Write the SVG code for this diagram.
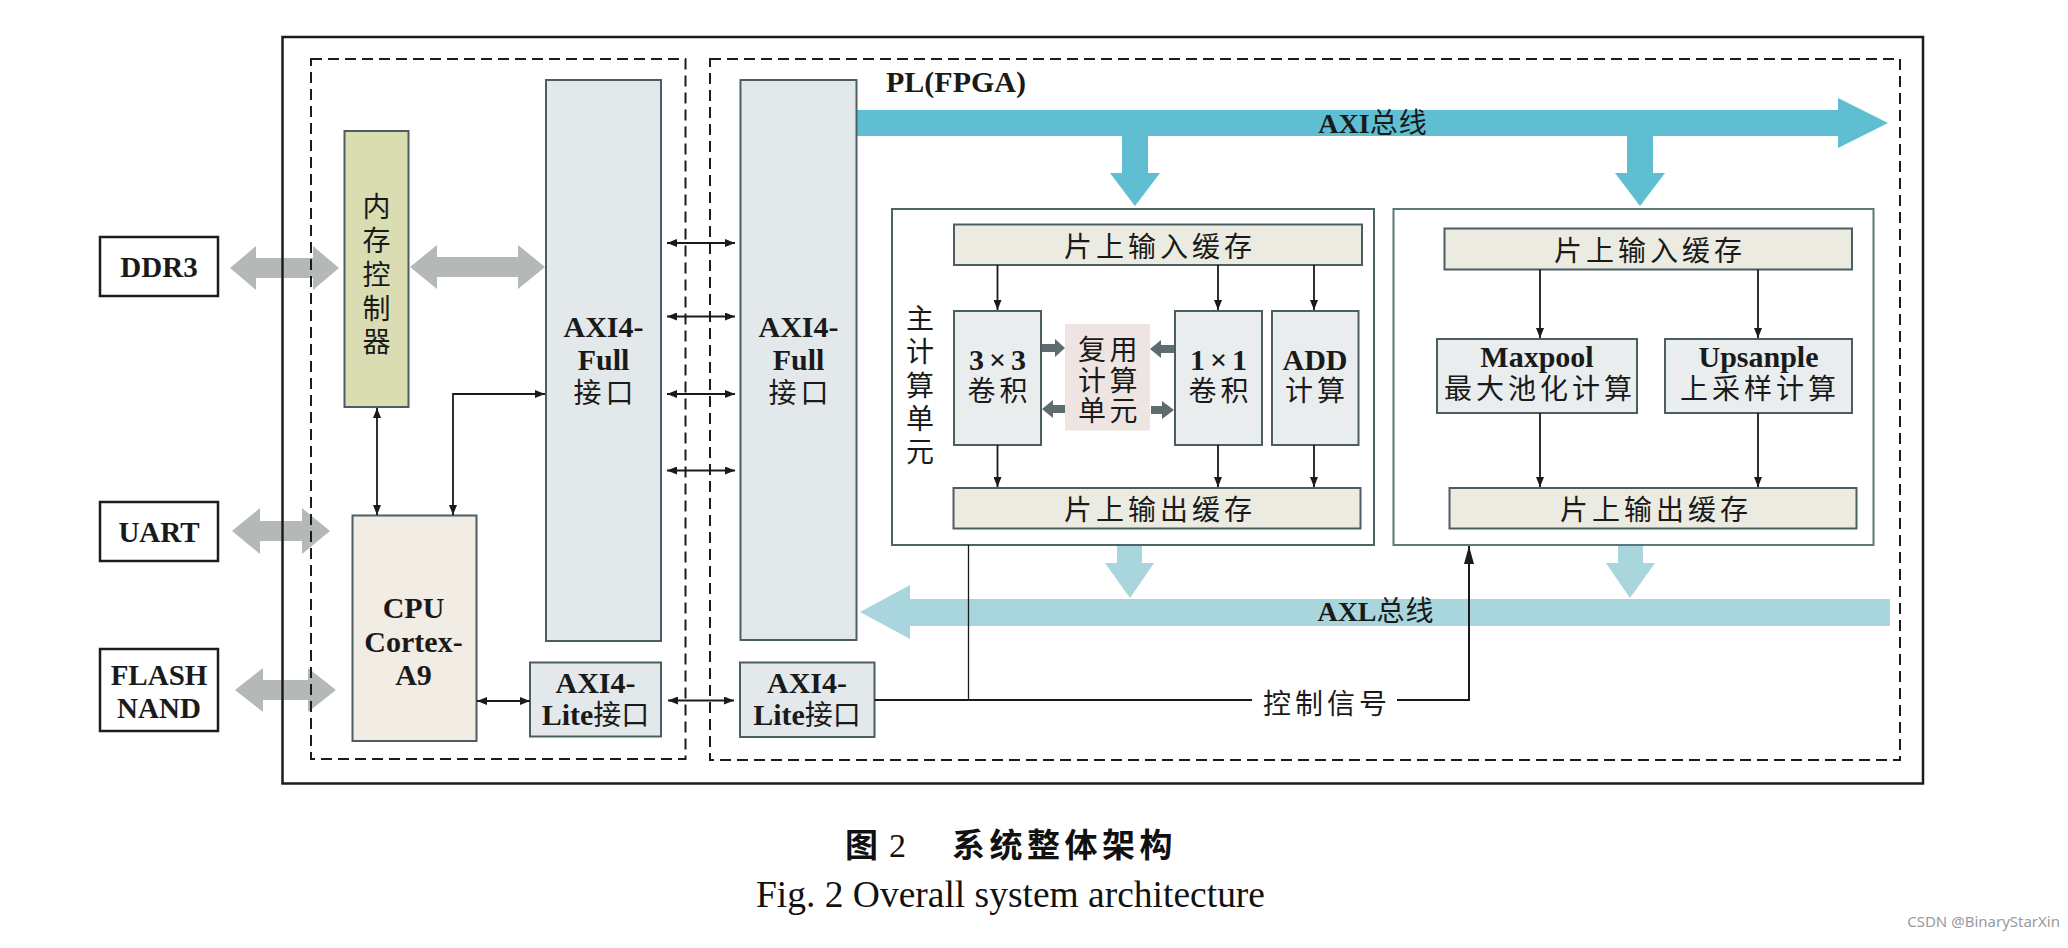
<svg xmlns="http://www.w3.org/2000/svg" width="2068" height="948" viewBox="0 0 2068 948">
<style>
.frame{fill:none;stroke:#1c1c1c;stroke-width:2.5}
.ext{fill:#fff;stroke:#1c1c1c;stroke-width:2.5}
.dash{fill:none;stroke:#1c1c1c;stroke-width:2;stroke-dasharray:11 6}
.box{stroke:#4d5e62;stroke-width:2}
.axi{fill:#e3e9eb}
.mem{fill:#d9ddb1}
.cpu{fill:#f2ede4}
.buf{fill:#ecebe1}
.comp{fill:#e9eded}
.grp{fill:#fff;stroke:#4d6468;stroke-width:2}
.reuse{fill:#eee5e2}
.ln{fill:none;stroke:#1a1a1a;stroke-width:1.8}
.grey{fill:#b5b8b9}
.dk{fill:#5f6c6f}
.bus{fill:#5fbed2}
.bus2{fill:#a9d6dd}
.en{font-family:"Liberation Serif","Noto Sans CJK SC",serif;font-weight:bold;font-size:30px;fill:#1a1a1a;text-anchor:middle}
.cn{font-family:"Noto Sans CJK SC",sans-serif;font-size:28px;fill:#1a1a1a;text-anchor:middle;dominant-baseline:central}
.c{font-family:"Noto Sans CJK SC",sans-serif;font-weight:normal;font-size:28px;letter-spacing:4px}
.cnw{letter-spacing:4px}
</style>
<defs>
<marker id="ah" viewBox="0 0 10 8" refX="10" refY="4" markerWidth="10" markerHeight="8" markerUnits="userSpaceOnUse" orient="auto-start-reverse"><path d="M0,0L10,4L0,8z" fill="#1a1a1a"/></marker>
<marker id="ahL" viewBox="0 0 18 10" refX="18" refY="5" markerWidth="18" markerHeight="10" markerUnits="userSpaceOnUse" orient="auto"><path d="M0,0L18,5L0,10z" fill="#1a1a1a"/></marker>
</defs>
<rect width="2068" height="948" fill="#fff"/>

<g id="buses">
<path class="grey" d="M230,268 L256,246 L256,258 L313,258 L313,246 L339,268 L313,290 L313,278 L256,278 L256,290 Z"/>
<path class="grey" d="M410,267 L437,245 L437,257 L518,257 L518,245 L545,267 L518,289 L518,277 L437,277 L437,289 Z"/>
<path class="grey" d="M232,531 L260,508 L260,521 L302,521 L302,508 L330,531 L302,554 L302,541 L260,541 L260,554 Z"/>
<path class="grey" d="M235,690 L263,668 L263,680 L308,680 L308,668 L336,690 L308,712 L308,700 L263,700 L263,712 Z"/>
<path class="bus" d="M857,110 L1838,110 L1838,98 L1888,123 L1838,148 L1838,136 L857,136 Z"/>
<path class="bus" d="M1122,136 L1148,136 L1148,173 L1160,173 L1135,206 L1110,173 L1122,173 Z"/>
<path class="bus" d="M1627,136 L1653,136 L1653,173 L1665,173 L1640,206 L1615,173 L1627,173 Z"/>
<path class="bus2" d="M1890,599 L910,599 L910,585 L860,612 L910,639 L910,626 L1890,626 Z"/>
<path class="bus2" d="M1117,546 L1142,546 L1142,563 L1154,563 L1130,598 L1105,563 L1117,563 Z"/>
<path class="bus2" d="M1618,546 L1643,546 L1643,563 L1655,563 L1630,598 L1606,563 L1618,563 Z"/>
<text x="1373" y="133" class="en" style="font-size:28px">AXI<tspan class="c" style="letter-spacing:1px">总线</tspan></text>
<text x="1376" y="621" class="en" style="font-size:28px">AXL<tspan class="c" style="letter-spacing:1px">总线</tspan></text>
</g>

<g id="frames">
<rect class="frame" x="282.5" y="37" width="1640.5" height="746.5"/>
<rect class="dash" x="311" y="59" width="374.5" height="700"/>
<rect class="dash" x="710" y="59" width="1190" height="701"/>
<text x="886" y="92" class="en" style="text-anchor:start">PL(FPGA)</text>
</g>

<g id="ddr3"><rect class="ext" x="100" y="237" width="118" height="59"/><text x="159" y="277" class="en" style="font-size:29px">DDR3</text></g>
<g id="uart"><rect class="ext" x="100" y="502" width="118" height="59"/><text x="159" y="542" class="en" style="font-size:29px">UART</text></g>
<g id="flash"><rect class="ext" x="100" y="649" width="118" height="82"/><text class="en" style="font-size:29px"><tspan x="159" y="685">FLASH</tspan><tspan x="159" y="718">NAND</tspan></text></g>

<g id="memctrl"><rect class="box mem" x="344.5" y="131" width="64" height="276"/>
<text class="cn"><tspan x="376.5" y="205">内</tspan><tspan x="376.5" y="239">存</tspan><tspan x="376.5" y="273">控</tspan><tspan x="376.5" y="307">制</tspan><tspan x="376.5" y="340">器</tspan></text></g>

<g id="axifull-ps"><rect class="box axi" x="546" y="80" width="115" height="561"/>
<text class="en"><tspan x="603.5" y="337">AXI4-</tspan><tspan x="603.5" y="370">Full</tspan><tspan x="605.5" y="403" class="c">接口</tspan></text></g>

<g id="axifull-pl"><rect class="box axi" x="740.5" y="80" width="116" height="560"/>
<text class="en"><tspan x="798.5" y="337">AXI4-</tspan><tspan x="798.5" y="370">Full</tspan><tspan x="800.5" y="403" class="c">接口</tspan></text></g>

<g id="cpu"><rect class="box cpu" x="352.5" y="515.5" width="124" height="225.5"/>
<text class="en"><tspan x="413.5" y="618">CPU</tspan><tspan x="413.5" y="652">Cortex-</tspan><tspan x="413.5" y="685">A9</tspan></text></g>

<g id="axilite-ps"><rect class="box axi" x="530" y="662.5" width="131" height="74"/>
<text class="en"><tspan x="595.5" y="693">AXI4-</tspan><tspan x="595.5" y="725">Lite<tspan class="c" style="letter-spacing:0">接口</tspan></tspan></text></g>

<g id="axilite-pl"><rect class="box axi" x="740" y="662.5" width="134.5" height="74.5"/>
<text class="en"><tspan x="807" y="693">AXI4-</tspan><tspan x="807" y="725">Lite<tspan class="c" style="letter-spacing:0">接口</tspan></tspan></text></g>

<g id="main-compute"><rect class="grp" x="892" y="209" width="482" height="336"/>
<text class="cn"><tspan x="920" y="317">主</tspan><tspan x="920" y="350">计</tspan><tspan x="920" y="384">算</tspan><tspan x="920" y="417">单</tspan><tspan x="920" y="450">元</tspan></text></g>

<g id="inbuf1"><rect class="box buf" x="954" y="224.5" width="408" height="40.5"/><text class="cn cnw" x="1160" y="245">片上输入缓存</text></g>
<g id="conv3"><rect class="box comp" x="954" y="311" width="87" height="134"/><text class="en"><tspan x="1000" y="370" style="letter-spacing:5px">3×3</tspan><tspan x="999.5" y="401" class="c">卷积</tspan></text></g>
<g id="reuse"><rect class="reuse" x="1065" y="324" width="85" height="106.5"/>
<text class="cn" style="letter-spacing:3.5px"><tspan x="1109.5" y="348">复用</tspan><tspan x="1109.5" y="379">计算</tspan><tspan x="1109.5" y="409">单元</tspan></text></g>
<g id="conv1"><rect class="box comp" x="1175" y="311" width="87" height="134"/><text class="en"><tspan x="1221" y="370" style="letter-spacing:5px">1×1</tspan><tspan x="1220.5" y="401" class="c">卷积</tspan></text></g>
<g id="add"><rect class="box comp" x="1272" y="311" width="86.5" height="134"/><text class="en"><tspan x="1315" y="370">ADD</tspan><tspan x="1317" y="401" class="c">计算</tspan></text></g>
<g id="outbuf1"><rect class="box buf" x="953.5" y="488" width="407" height="40.5"/><text class="cn cnw" x="1160" y="508">片上输出缓存</text></g>

<g id="aux-compute"><rect class="grp" x="1393.5" y="209" width="480" height="336" style="stroke:#5d777b"/></g>
<g id="inbuf2"><rect class="box buf" x="1444.5" y="228.5" width="407.5" height="41"/><text class="cn cnw" x="1650" y="249">片上输入缓存</text></g>
<g id="maxpool"><rect class="box comp" x="1437" y="339" width="200" height="74"/><text class="en"><tspan x="1537" y="367">Maxpool</tspan><tspan x="1540" y="399" class="c">最大池化计算</tspan></text></g>
<g id="upsample"><rect class="box comp" x="1665" y="339" width="187" height="74"/><text class="en"><tspan x="1758.5" y="367">Upsanple</tspan><tspan x="1760" y="399" class="c">上采样计算</tspan></text></g>
<g id="outbuf2"><rect class="box buf" x="1449.5" y="488" width="407" height="40.5"/><text class="cn cnw" x="1656" y="508">片上输出缓存</text></g>

<g id="connectors">
<line class="ln" x1="377" y1="408" x2="377" y2="515" marker-start="url(#ah)" marker-end="url(#ah)"/>
<path class="ln" d="M453,515 L453,394 L545,394" marker-start="url(#ah)" marker-end="url(#ah)"/>
<line class="ln" x1="667" y1="243" x2="735" y2="243" marker-start="url(#ah)" marker-end="url(#ah)"/>
<line class="ln" x1="667" y1="316.5" x2="735" y2="316.5" marker-start="url(#ah)" marker-end="url(#ah)"/>
<line class="ln" x1="667" y1="394" x2="735" y2="394" marker-start="url(#ah)" marker-end="url(#ah)"/>
<line class="ln" x1="667" y1="470.5" x2="735" y2="470.5" marker-start="url(#ah)" marker-end="url(#ah)"/>
<line class="ln" x1="477" y1="701" x2="530" y2="701" marker-start="url(#ah)" marker-end="url(#ah)"/>
<line class="ln" x1="668" y1="700.5" x2="734" y2="700.5" marker-start="url(#ah)" marker-end="url(#ah)"/>
<line class="ln" x1="997.5" y1="265" x2="997.5" y2="310" marker-end="url(#ah)"/>
<line class="ln" x1="1218" y1="265" x2="1218" y2="310" marker-end="url(#ah)"/>
<line class="ln" x1="1314" y1="265" x2="1314" y2="310" marker-end="url(#ah)"/>
<line class="ln" x1="997.5" y1="445" x2="997.5" y2="487" marker-end="url(#ah)"/>
<line class="ln" x1="1218" y1="445" x2="1218" y2="487" marker-end="url(#ah)"/>
<line class="ln" x1="1314" y1="445" x2="1314" y2="487" marker-end="url(#ah)"/>
<line class="ln" x1="1540" y1="269.5" x2="1540" y2="338" marker-end="url(#ah)"/>
<line class="ln" x1="1758" y1="269.5" x2="1758" y2="338" marker-end="url(#ah)"/>
<line class="ln" x1="1540" y1="413" x2="1540" y2="487" marker-end="url(#ah)"/>
<line class="ln" x1="1758" y1="413" x2="1758" y2="487" marker-end="url(#ah)"/>
<path class="dk" d="M1042,344 L1055,344 L1055,339 L1065,348 L1055,357 L1055,352 L1042,352 Z"/>
<path class="dk" d="M1174,345 L1161,345 L1161,340 L1150,349 L1161,358 L1161,353 L1174,353 Z"/>
<path class="dk" d="M1065,405 L1053,405 L1053,400 L1042,409 L1053,418 L1053,413 L1065,413 Z"/>
<path class="dk" d="M1151,406 L1162,406 L1162,401 L1174,410 L1162,419 L1162,414 L1151,414 Z"/>
<line class="ln" x1="968.5" y1="545" x2="968.5" y2="700" style="stroke-width:1.3"/>
<line class="ln" x1="874.5" y1="700" x2="1252" y2="700" style="stroke-width:2"/>
<path class="ln" d="M1397,700 L1469,700 L1469,546" style="stroke-width:2" marker-end="url(#ahL)"/>
<text class="cn cnw" x="1327" y="702">控制信号</text>
</g>

<g id="caption">
<text x="845" y="857" style="font-family:'Noto Sans CJK SC',sans-serif;font-weight:bold;font-size:33px;fill:#111">图<tspan x="889" style="font-family:'Liberation Serif',serif;font-weight:normal;font-size:34px">2</tspan><tspan x="952" style="letter-spacing:4.5px">系统整体架构</tspan></text>
<text x="756" y="907" textLength="509" lengthAdjust="spacingAndGlyphs" style="font-family:'Liberation Serif',serif;font-size:38px;fill:#111">Fig. 2 Overall system architecture</text>
</g>
<text x="2060" y="927" style="font-family:'Noto Sans',sans-serif;font-size:15px;fill:#9a9a9a;text-anchor:end">CSDN @BinaryStarXin</text>
</svg>
